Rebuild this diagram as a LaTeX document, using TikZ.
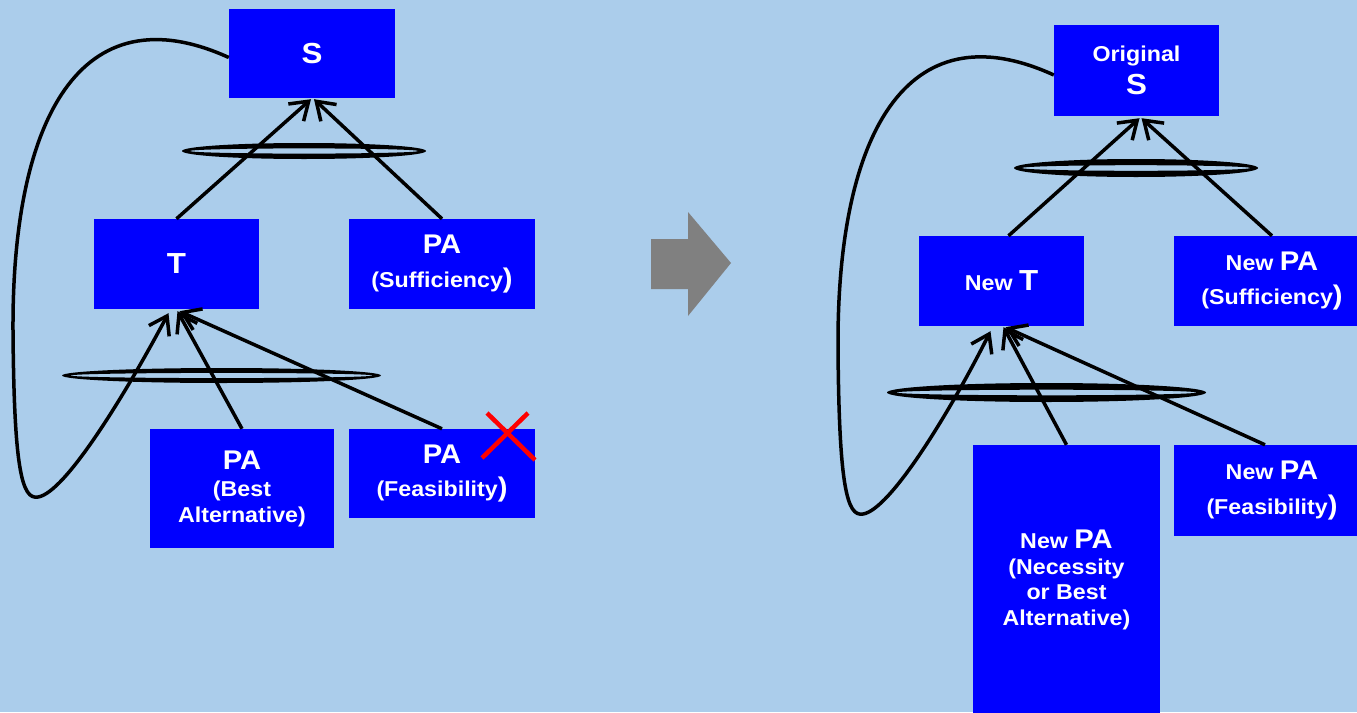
\documentclass[tikz,border=0pt]{standalone}
\usepackage{fontspec}
\setmainfont{Liberation Sans}[FakeStretch=1.08]
\usetikzlibrary{arrows.meta,calc}
\definecolor{bgblue}{RGB}{171,205,235}
\definecolor{boxblue}{RGB}{0,0,255}
\definecolor{shiftgray}{RGB}{128,128,128}
\definecolor{crossred}{RGB}{255,0,0}
% large glyphs inside the boxes
\newcommand{\txthuge}[1]{{\fontsize{29}{31}\selectfont #1}}
\newcommand{\txtbig}[1]{{\fontsize{27}{29}\selectfont #1}}
\begin{document}
\begin{tikzpicture}[x=1pt,y=1pt,
  box/.style={fill=boxblue, text=white, align=center, inner sep=0pt,
    font=\bfseries\fontsize{21.5}{25.5}\selectfont},
  link/.style={line width=3.5pt, -{Straight Barb[length=17pt,width=23pt]}},
  ring/.style={fill=black, even odd rule},
  cross/.style={crossred, line width=4.5pt}]
\fill[bgblue] (0,0) rectangle (1357,-712);
\useasboundingbox (0,0) rectangle (1357,-712);

% ---- before: original tree ----
\node[box, minimum width=166pt, minimum height=89pt] (S) at (312,-53.5) {\txthuge{S}};
\node[box, minimum width=165pt, minimum height=90pt] (T) at (176.5,-264) {\txthuge{T}};
\node[box, minimum width=186pt, minimum height=90pt] (PAsuff) at (442,-264)
  {\txtbig{PA}\\[9pt](Sufficiency\txtbig{)}};
\node[box, minimum width=184pt, minimum height=119pt] (PAbest) at (242,-488.5)
  {\txtbig{PA}\\[2pt](Best\\Alternative)};
\node[box, minimum width=186pt, minimum height=89pt] (PAfeas) at (442,-473.5)
  {\txtbig{PA}\\[8pt](Feasibility\txtbig{)}};

% thick oval rings (filled bands, so the ends stay rounded)
\fill[ring] (304,-151) ellipse [x radius=122, y radius=8]
            (304,-151) ellipse [x radius=114, y radius=2.6];
\fill[ring] (221.5,-375.5) ellipse [x radius=159.5, y radius=7.5]
            (221.5,-375.5) ellipse [x radius=151, y radius=2.6];

\draw[link] (T.north) -- ($(S.south)+(-1,-1)$);
\draw[link] (PAsuff.north) -- ($(S.south)+(2,-1)$);
\draw[link] (PAbest.north) -- ($(T.south)+(1,-2)$);
\draw[link] (PAfeas.north) -- ($(T.south)+(3,-2)$);
\draw[link] ($(S.west)+(0,-4)$) .. controls (80,10) and (12,-120) .. (13,-330)
  .. controls (14,-470) and (22,-500) .. (38,-497)
  .. controls (65,-493) and (125,-395) .. ($(T.south)+(-8,-4)$);

\draw[cross] (487,-413) -- (535,-460);
\draw[cross] (528,-413) -- (482,-458);

% ---- transition arrow ----
\fill[shiftgray] (651,-239) -- (688,-239) -- (688,-212) -- (731,-263)
  -- (688,-316) -- (688,-289) -- (651,-289) -- cycle;

% ---- after: revised tree ----
\node[box, minimum width=165pt, minimum height=91pt] (OS) at (1136.5,-70.5)
  {Original\\[7.5pt]\txthuge{S}};
\node[box, minimum width=165pt, minimum height=90pt] (NT) at (1001.5,-281)
  {New \txthuge{T}};
\node[box, minimum width=196pt, minimum height=90pt] (NPsuff) at (1272,-281)
  {New \txtbig{PA}\\[9pt](Sufficiency\txtbig{)}};
\node[box, minimum width=196pt, minimum height=91pt] (NPfeas) at (1272,-490.5)
  {New \txtbig{PA}\\[9pt](Feasibility\txtbig{)}};
\node[box, minimum width=187pt, minimum height=270pt] (NPnec) at (1066.5,-580)
  {New \txtbig{PA}\\(Necessity\\or Best\\Alternative)};

\fill[ring] (1136,-168) ellipse [x radius=122, y radius=9]
            (1136,-168) ellipse [x radius=114, y radius=2.8];
\fill[ring] (1046.5,-392.5) ellipse [x radius=159.5, y radius=9.5]
            (1046.5,-392.5) ellipse [x radius=150, y radius=2.8];

\draw[link] ($(NT.north)+(7,0)$) -- ($(OS.south)+(3,-2)$);
\draw[link] (NPsuff.north) -- ($(OS.south)+(5,-2)$);
\draw[link] (NPnec.north) -- ($(NT.south)+(2,-1)$);
\draw[link] ($(NPfeas.north)+(-7,0)$) -- ($(NT.south)+(4,-1)$);
\draw[link] ($(OS.west)+(0,-4.5)$) .. controls (905,-7) and (837,-137) .. (838,-347)
  .. controls (839,-487) and (847,-517) .. (863,-514)
  .. controls (890,-510) and (950,-412) .. ($(NT.south)+(-11,-5)$);
\end{tikzpicture}
\end{document}
